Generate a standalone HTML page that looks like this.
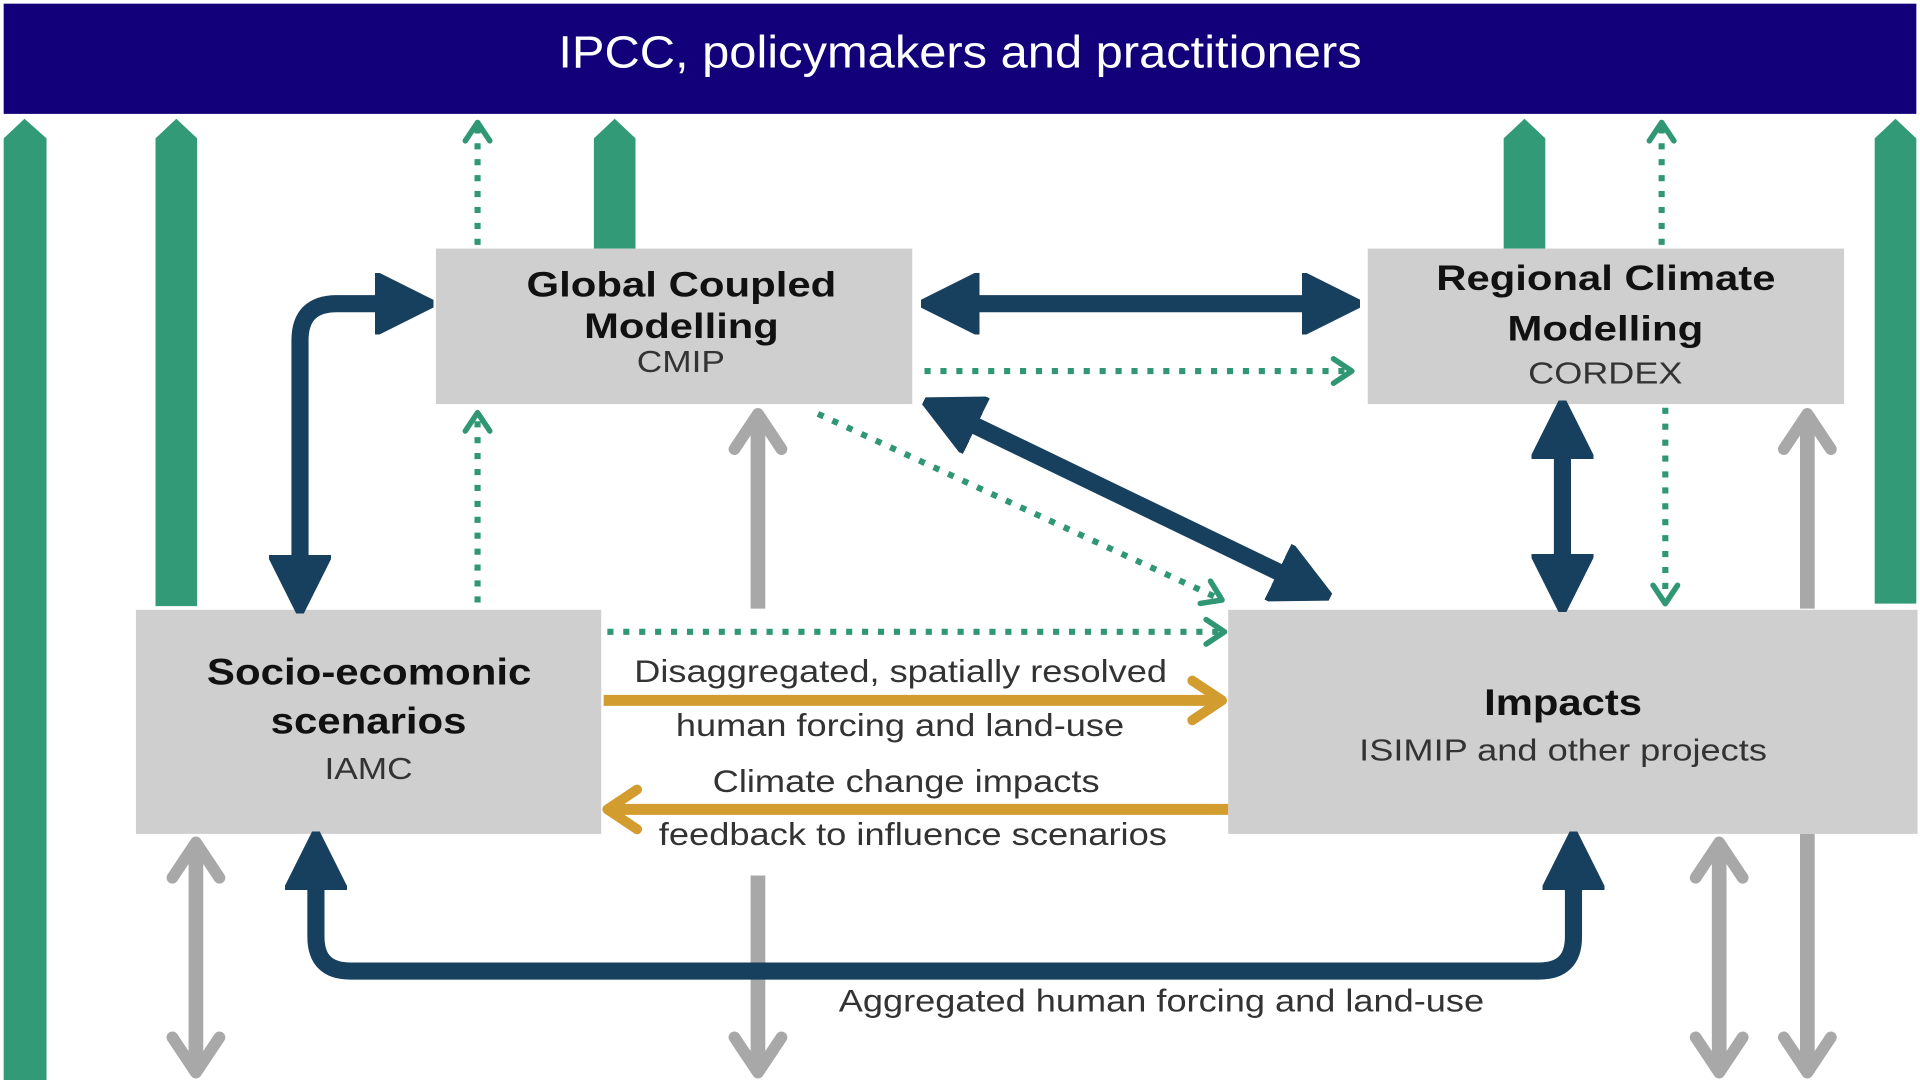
<!DOCTYPE html>
<html><head><meta charset="utf-8"><style>
html,body{margin:0;padding:0;background:#fff;}
svg{display:block;}
text{font-family:"Liberation Sans",Arial,sans-serif;}
</style></head><body>
<svg width="1920" height="1080" viewBox="0 0 1568 882" xmlns="http://www.w3.org/2000/svg">
<defs>
<marker id="bh" viewBox="0 0 10 10" refX="1" refY="5" markerWidth="3.4" markerHeight="3.6" markerUnits="strokeWidth" orient="auto-start-reverse">
<path d="M0,0 L10,5 L0,10 z" fill="#173f5e" stroke="#173f5e" stroke-width="1.2" stroke-linejoin="round"/></marker>
<marker id="oh" viewBox="0 0 10 10" refX="8" refY="5" markerWidth="4.5" markerHeight="5" markerUnits="strokeWidth" orient="auto-start-reverse">
<path d="M2,1 L8,5 L2,9" fill="none" stroke="#d39c2f" stroke-width="2" stroke-linejoin="round" stroke-linecap="round"/></marker>
<marker id="gh" viewBox="0 0 10 10" refX="8" refY="5" markerWidth="4" markerHeight="4.4" markerUnits="strokeWidth" orient="auto-start-reverse">
<path d="M2,1 L8,5 L2,9" fill="none" stroke="#a8a8a8" stroke-width="2" stroke-linejoin="round" stroke-linecap="round"/></marker>
<marker id="dh" viewBox="0 0 10 10" refX="8" refY="5" markerWidth="5" markerHeight="5" markerUnits="strokeWidth" orient="auto-start-reverse">
<path d="M2,1 L8,5 L2,9" fill="none" stroke="#2f9774" stroke-width="1.8" stroke-linejoin="round" stroke-linecap="round"/></marker>
</defs>
<rect x="3" y="3" width="1562" height="90" fill="#12007a"/>
<text x="456" y="55" font-size="37" fill="#fff" textLength="656" lengthAdjust="spacingAndGlyphs">IPCC, policymakers and practitioners</text>
<g fill="#339a77">
<polygon points="3,882 3,113 20,97 38,113 38,882"/>
<polygon points="127,495 127,113 144,97 161,113 161,495"/>
<polygon points="485,203 485,113 502,97 519,113 519,203"/>
<polygon points="1228,203 1228,113 1245,97 1262,113 1262,203"/>
<polygon points="1531,493 1531,113 1548,97 1565,113 1565,493"/>
</g>
<g fill="#d0cfcf">
<rect x="356" y="203" width="389" height="127"/>
<rect x="1117" y="203" width="389" height="127"/>
<rect x="111" y="498" width="380" height="183"/>
<rect x="1003" y="498" width="563" height="183"/>
</g>
<g stroke="#2f9774" stroke-width="5" stroke-dasharray="5,8" fill="none" marker-end="url(#dh)">
<line x1="390" y1="200" x2="390" y2="100"/>
<line x1="390" y1="492" x2="390" y2="337"/>
<line x1="1357" y1="200" x2="1357" y2="100"/>
<line x1="1360" y1="333" x2="1360" y2="493"/>
<line x1="755" y1="303" x2="1104" y2="303"/>
<line x1="668" y1="338" x2="998" y2="490"/>
<line x1="496" y1="516" x2="1000" y2="516"/>
</g>
<g stroke="#a8a8a8" stroke-width="12" fill="none">
<line x1="619" y1="497" x2="619" y2="338" marker-end="url(#gh)"/>
<line x1="619" y1="715" x2="619" y2="876" marker-end="url(#gh)"/>
<line x1="160" y1="688" x2="160" y2="876" marker-start="url(#gh)" marker-end="url(#gh)"/>
<line x1="1404" y1="688" x2="1404" y2="876" marker-start="url(#gh)" marker-end="url(#gh)"/>
<line x1="1476" y1="497" x2="1476" y2="338" marker-end="url(#gh)"/>
<line x1="1476" y1="681" x2="1476" y2="876" marker-end="url(#gh)"/>
</g>
<g stroke="#d39c2f" stroke-width="9" fill="none">
<line x1="493" y1="572" x2="998" y2="572" marker-end="url(#oh)"/>
<line x1="1003" y1="661" x2="496" y2="661" marker-end="url(#oh)"/>
</g>
<g stroke="#173f5e" stroke-width="14" fill="none">
<line x1="795" y1="248" x2="1068" y2="248" marker-start="url(#bh)" marker-end="url(#bh)"/>
<line x1="793" y1="346" x2="1048" y2="469" marker-start="url(#bh)" marker-end="url(#bh)"/>
<line x1="1276" y1="370" x2="1276" y2="457" marker-start="url(#bh)" marker-end="url(#bh)"/>
<path d="M311,248 L275,248 Q245,248 245,278 L245,458" marker-start="url(#bh)" marker-end="url(#bh)"/>
<path d="M258,722 L258,765 Q258,793 286,793 L1257,793 Q1285,793 1285,765 L1285,722" marker-start="url(#bh)" marker-end="url(#bh)"/>
</g>
<g fill="#111" lengthAdjust="spacingAndGlyphs">
<text x="430" y="242" font-size="29" font-weight="bold" textLength="253" lengthAdjust="spacingAndGlyphs">Global Coupled</text>
<text x="477" y="276" font-size="29" font-weight="bold" textLength="159" lengthAdjust="spacingAndGlyphs">Modelling</text>
<text x="520" y="304" font-size="25" fill="#333" textLength="72" lengthAdjust="spacingAndGlyphs">CMIP</text>
<text x="1173" y="237" font-size="29" font-weight="bold" textLength="277" lengthAdjust="spacingAndGlyphs">Regional Climate</text>
<text x="1231" y="278" font-size="29" font-weight="bold" textLength="160" lengthAdjust="spacingAndGlyphs">Modelling</text>
<text x="1248" y="313" font-size="25" fill="#333" textLength="126" lengthAdjust="spacingAndGlyphs">CORDEX</text>
<text x="169" y="559" font-size="30" font-weight="bold" textLength="265" lengthAdjust="spacingAndGlyphs">Socio-ecomonic</text>
<text x="221" y="599" font-size="30" font-weight="bold" textLength="160" lengthAdjust="spacingAndGlyphs">scenarios</text>
<text x="265" y="636" font-size="25" fill="#333" textLength="72" lengthAdjust="spacingAndGlyphs">IAMC</text>
<text x="1212" y="584" font-size="30" font-weight="bold" textLength="129" lengthAdjust="spacingAndGlyphs">Impacts</text>
<text x="1110" y="621" font-size="25" fill="#333" textLength="333" lengthAdjust="spacingAndGlyphs">ISIMIP and other projects</text>
<g font-size="26" fill="#333">
<text x="518" y="557" textLength="435" lengthAdjust="spacingAndGlyphs">Disaggregated, spatially resolved</text>
<text x="552" y="601" textLength="366" lengthAdjust="spacingAndGlyphs">human forcing and land-use</text>
<text x="582" y="647" textLength="316" lengthAdjust="spacingAndGlyphs">Climate change impacts</text>
<text x="538" y="690" textLength="415" lengthAdjust="spacingAndGlyphs">feedback to influence scenarios</text>
<text x="685" y="826" textLength="527" lengthAdjust="spacingAndGlyphs">Aggregated human forcing and land-use</text>
</g>
</g>
</svg>
</body></html>
